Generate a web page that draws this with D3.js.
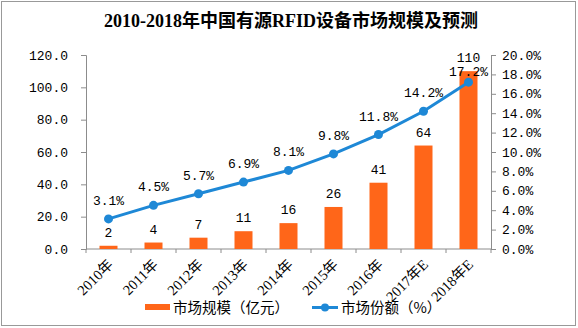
<!DOCTYPE html>
<html><head><meta charset="utf-8">
<script src="https://cdn.jsdelivr.net/npm/d3@7"></script>
<style>
html,body{margin:0;padding:0;background:#fff;}
svg{display:block;}
</style></head>
<body>
<svg id="chart" width="578" height="328"></svg>
<script>
const categories = ["2010年","2011年","2012年","2013年","2014年","2015年","2016年","2017年E","2018年E"];
const marketSize = [2,4,7,11,16,26,41,64,110];
const marketShare = [3.1,4.5,5.7,6.9,8.1,9.8,11.8,14.2,17.2];
const leftTicks = [0,20,40,60,80,100,120];
const rightTicks = [0,2,4,6,8,10,12,14,16,18,20];
const title = "2010-2018年中国有源RFID设备市场规模及预测";
const legendBar = "市场规模（亿元）";
const legendLine = "市场份额（%）";

const BAR = "#FF6619", LINE = "#1E88D6", AX = "#8c8c8c";
const numFont = "'Liberation Mono','DejaVu Sans Mono',monospace";
const cjkFont = "'Noto Sans CJK SC',sans-serif";
const svg = d3.select("#chart");

svg.append("rect").attr("x",1.5).attr("y",1.5).attr("width",574).attr("height",324)
  .attr("fill","#fff").attr("stroke","#999").attr("stroke-width",1);

svg.append("text").attr("x",291).attr("y",27).attr("text-anchor","middle")
  .attr("font-family","'Liberation Serif','Noto Sans CJK SC',serif").attr("font-weight","bold")
  .attr("font-size",18).attr("fill","#000").text(title);

const x = d3.scaleBand().domain(categories).range([86,491]).paddingInner(0.6).paddingOuter(0.3);
const yL = d3.scaleLinear().domain([0,120]).range([249,55]);
const yR = d3.scaleLinear().domain([0,20]).range([249,55]);

function styleAxis(g){
  g.select(".domain").attr("stroke",AX);
  g.selectAll(".tick line").attr("stroke",AX);
  g.selectAll(".tick text").attr("font-family",numFont).attr("font-size",13).attr("fill","#000");
}
svg.append("g").attr("transform","translate(86,0)")
  .call(d3.axisLeft(yL).tickValues(leftTicks).tickFormat(d3.format(".1f")).tickSize(5).tickPadding(13).tickSizeOuter(5))
  .call(styleAxis);
svg.append("g").attr("transform","translate(491,0)")
  .call(d3.axisRight(yR).tickValues(rightTicks).tickFormat(d=>d.toFixed(1)+"%").tickSize(5).tickPadding(6).tickSizeOuter(5))
  .call(styleAxis);

// x axis with ticks at band boundaries
const xg = svg.append("g").attr("transform","translate(0,249)");
xg.append("line").attr("x1",86).attr("x2",491).attr("stroke",AX);
const bounds = categories.map(c=>x(c)-x.step()*x.paddingInner()/2).concat([491]);
bounds[0]=86;
xg.selectAll("line.tk").data(bounds).join("line").attr("class","tk")
  .attr("x1",d=>d).attr("x2",d=>d).attr("y1",0).attr("y2",4).attr("stroke",AX);
xg.selectAll("text").data(categories).join("text")
  .attr("transform",d=>`translate(${x(d)+x.bandwidth()/2+2},${13}) rotate(-45)`)
  .attr("text-anchor","end").attr("dy","0.35em")
  .attr("font-family","'Liberation Serif','Noto Sans CJK SC',serif").attr("font-size",14.5).attr("fill","#000")
  .text(d=>d);

// bars
svg.selectAll("rect.bar").data(categories).join("rect").attr("class","bar")
  .attr("x",d=>x(d)).attr("width",x.bandwidth())
  .attr("y",(d,i)=>yL(marketSize[i])).attr("height",(d,i)=>249-yL(marketSize[i]))
  .attr("fill",BAR);

const barLabelY = marketSize.map(v=>yL(v)-9);
svg.selectAll("text.bl").data(categories).join("text").attr("class","bl")
  .attr("x",d=>x(d)+x.bandwidth()/2).attr("y",(d,i)=>barLabelY[i])
  .attr("text-anchor","middle").attr("font-family",numFont).attr("font-size",13).attr("fill","#000")
  .text((d,i)=>marketSize[i]);

// line
const cx = d=>x(d)+x.bandwidth()/2;
svg.append("path").datum(categories)
  .attr("d",d3.line().x(cx).y((d,i)=>yR(marketShare[i])))
  .attr("fill","none").attr("stroke",LINE).attr("stroke-width",3);
svg.selectAll("circle.pt").data(categories).join("circle").attr("class","pt")
  .attr("cx",cx).attr("cy",(d,i)=>yR(marketShare[i])).attr("r",4.5).attr("fill",LINE);

svg.selectAll("text.pl").data(categories).join("text").attr("class","pl")
  .attr("x",cx).attr("y",(d,i)=>{
    let y = yR(marketShare[i])-14;
    if (y < barLabelY[i]+14 && y > barLabelY[i]-14) y = barLabelY[i]+14;
    return y;
  })
  .attr("text-anchor","middle").attr("font-family",numFont).attr("font-size",13).attr("fill","#000")
  .text((d,i)=>marketShare[i].toFixed(1)+"%");

// legend
const lg = svg.append("g");
lg.append("rect").attr("x",145).attr("y",304).attr("width",25).attr("height",6).attr("fill",BAR);
lg.append("text").attr("x",173).attr("y",313).attr("font-family",cjkFont).attr("font-size",14.5).attr("fill","#000").text(legendBar);
lg.append("line").attr("x1",312).attr("x2",338).attr("y1",307.5).attr("y2",307.5).attr("stroke",LINE).attr("stroke-width",3);
lg.append("circle").attr("cx",325).attr("cy",307.5).attr("r",4).attr("fill",LINE);
lg.append("text").attr("x",341).attr("y",313).attr("font-family",cjkFont).attr("font-size",14.5).attr("fill","#000").text(legendLine);
</script>
</body></html>
